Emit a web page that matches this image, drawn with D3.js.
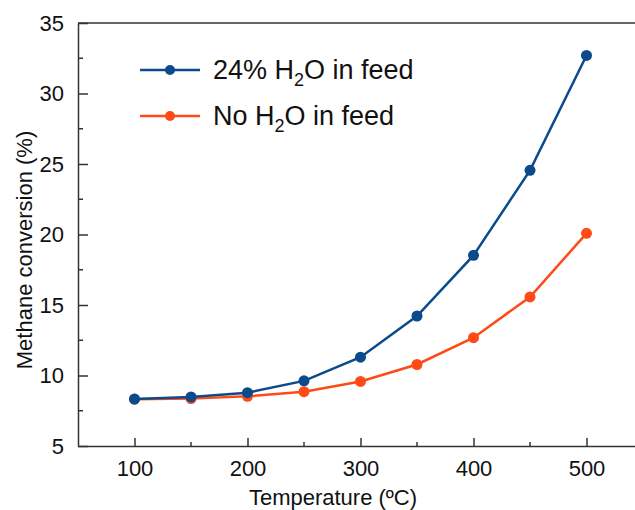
<!DOCTYPE html>
<html>
<head>
<meta charset="utf-8">
<script src="https://cdn.jsdelivr.net/npm/d3@7"></script>
<style>
  body { margin: 0; background: #fff; }
  svg { display: block; font-family: "Liberation Sans", Arial, sans-serif; }
</style>
</head>
<body>
<script>
// Data
const temps = [100, 150, 200, 250, 300, 350, 400, 450, 500];
const withWater = [8.33, 8.48, 8.78, 9.62, 11.3, 14.22, 18.52, 24.55, 32.7];
const noWater = [8.32, 8.36, 8.52, 8.85, 9.58, 10.78, 12.68, 15.57, 20.08];
const xTicks = [100, 200, 300, 400, 500];
const xMinor = [150, 250, 350, 450];
const yTicks = [5, 10, 15, 20, 25, 30, 35];
const yMinor = [7.5, 12.5, 17.5, 22.5, 27.5, 32.5];

const series = [
  { name: "24% H", sub: "2", rest: "O in feed", values: withWater, color: "#0b4a8b" },
  { name: "No H", sub: "2", rest: "O in feed", values: noWater, color: "#ff4a18" }
];

const W = 635, H = 510;
const margin = { top: 23, right: -8, bottom: 64, left: 78 };
const width = W - margin.left - margin.right,
      height = H - margin.top - margin.bottom;

const svg = d3.select("body").append("svg")
  .attr("width", W)
  .attr("height", H);

const g = svg.append("g")
  .attr("transform", "translate(" + margin.left + "," + margin.top + ")");

const x = d3.scaleLinear().domain([50, 550]).range([0, width]);
const y = d3.scaleLinear().domain([5, 35]).range([height, 0]);

const axisColor = "#333";

// frame (top border)
g.append("line")
  .attr("x1", 0).attr("x2", width)
  .attr("y1", 0).attr("y2", 0)
  .attr("stroke", axisColor).attr("stroke-width", 1.5);

// X axis, ticks pointing inward
const xAxis = g.append("g")
  .attr("transform", "translate(0," + height + ")")
  .call(d3.axisBottom(x).tickValues(xTicks).tickSize(-8).tickSizeOuter(0).tickPadding(14));
xAxis.append("g").selectAll("line")
  .data(xMinor).join("line")
  .attr("x1", d => x(d)).attr("x2", d => x(d))
  .attr("y1", 0).attr("y2", -4);

// Y axis
const yAxis = g.append("g")
  .call(d3.axisLeft(y).tickValues(yTicks).tickSize(-10).tickSizeOuter(0).tickPadding(14));
yAxis.append("g").selectAll("line")
  .data(yMinor).join("line")
  .attr("x1", 0).attr("x2", 5)
  .attr("y1", d => y(d)).attr("y2", d => y(d));

[xAxis, yAxis].forEach(a => {
  a.select(".domain").attr("stroke", axisColor).attr("stroke-width", 1.5);
  a.selectAll("line").attr("stroke", axisColor).attr("stroke-width", 1.5);
  a.selectAll("text").attr("font-size", 22).attr("fill", "#111")
    .attr("font-family", "Liberation Sans, Arial, sans-serif");
});

// axis titles
g.append("text")
  .attr("x", 255).attr("y", height + 59)
  .attr("text-anchor", "middle")
  .attr("font-size", 22).attr("fill", "#111")
  .text("Temperature (ºC)");

g.append("text")
  .attr("transform", "translate(" + (-46) + "," + 227 + ") rotate(-90)")
  .attr("text-anchor", "middle")
  .attr("font-size", 22).attr("fill", "#111")
  .text("Methane conversion (%)");

// lines and markers
const line = d3.line()
  .x((d, i) => x(temps[i]))
  .y(d => y(d));

series.slice().reverse().forEach(s => {
  g.append("path")
    .datum(s.values)
    .attr("fill", "none")
    .attr("stroke", s.color)
    .attr("stroke-width", 2.5)
    .attr("d", line);
  g.append("g").selectAll("circle")
    .data(s.values).join("circle")
    .attr("cx", (d, i) => x(temps[i]))
    .attr("cy", d => y(d))
    .attr("r", 5.5)
    .attr("fill", s.color);
});

// legend
const legend = g.append("g").attr("transform", "translate(62,47)");
series.forEach((s, i) => {
  const row = legend.append("g").attr("transform", "translate(0," + (i * 46) + ")");
  row.append("line")
    .attr("x1", 0).attr("x2", 60)
    .attr("stroke", s.color).attr("stroke-width", 2.5);
  row.append("circle").attr("cx", 30).attr("r", 5).attr("fill", s.color);
  const t = row.append("text")
    .attr("x", 73).attr("y", 9)
    .attr("font-size", 27).attr("fill", "#111");
  t.append("tspan").text(s.name);
  t.append("tspan").attr("font-size", 18).attr("dy", 7).text(s.sub);
  t.append("tspan").attr("dy", -7).text(s.rest);
});
</script>
</body>
</html>
